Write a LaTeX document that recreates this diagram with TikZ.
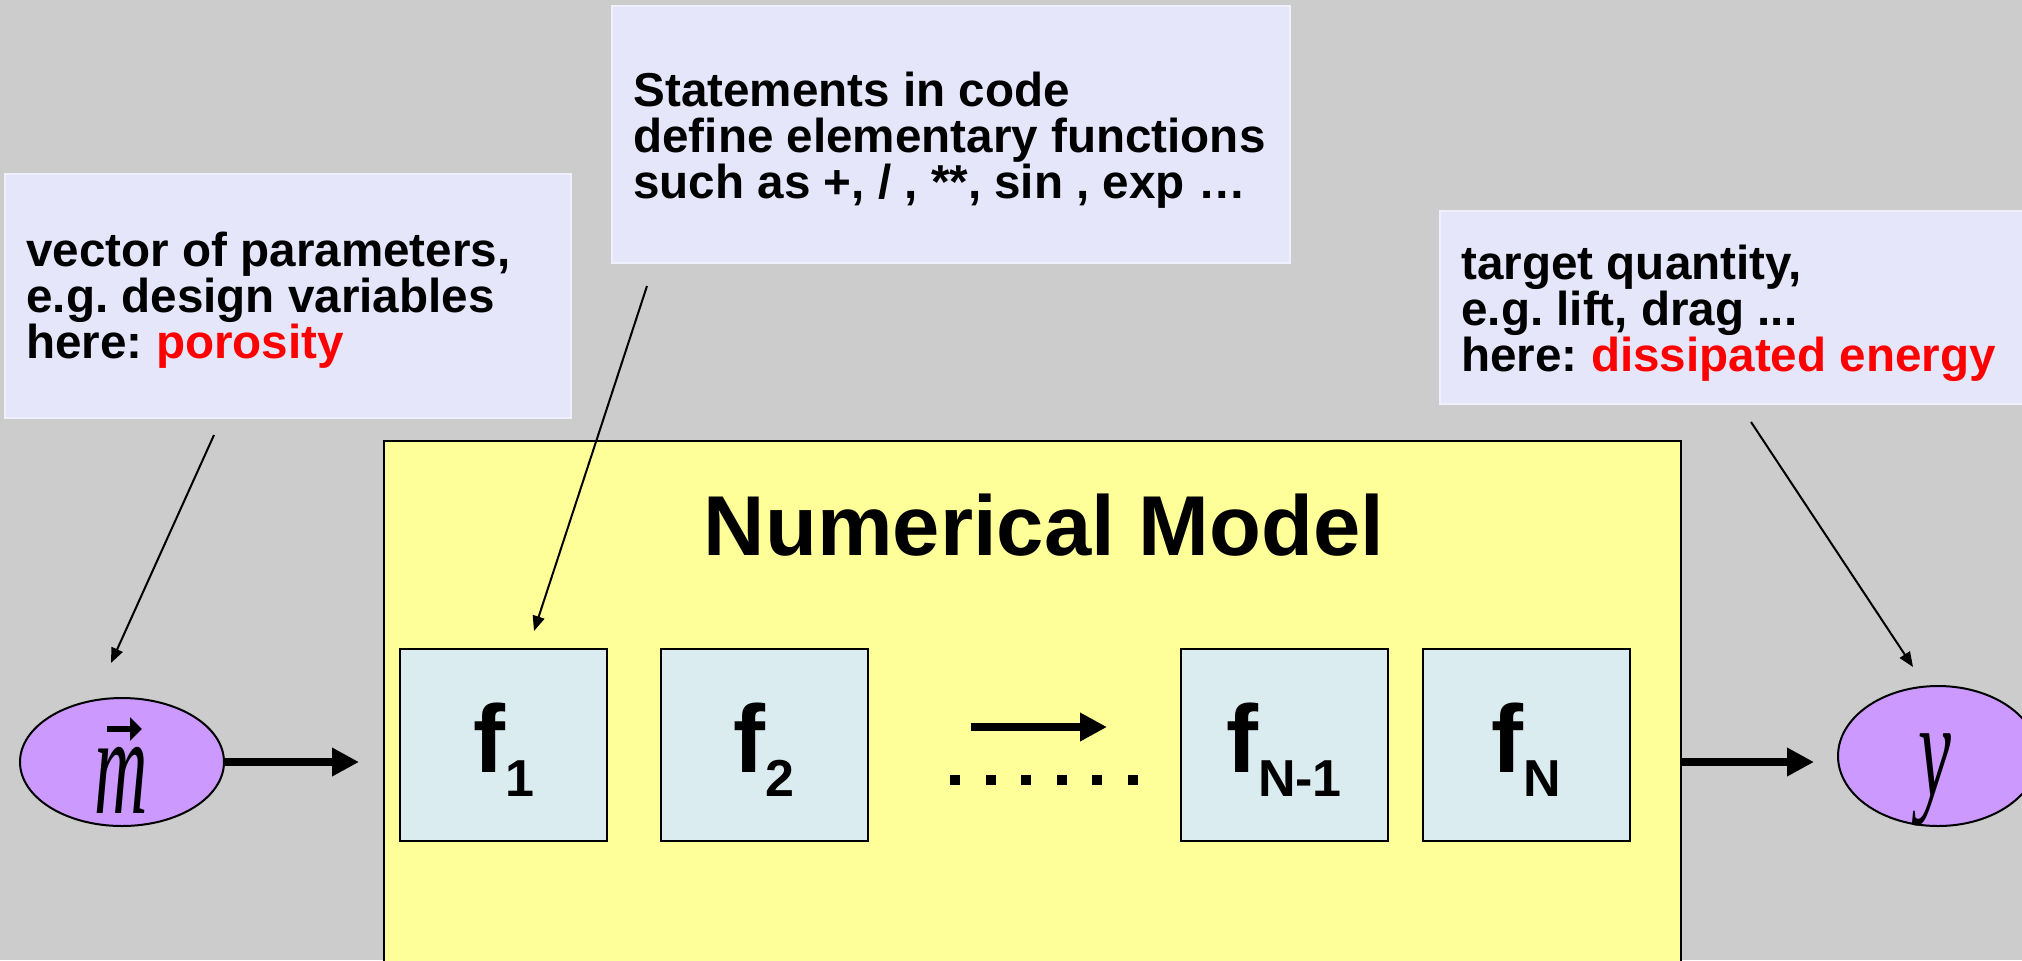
\documentclass[tikz,border=0pt]{standalone}
\usepackage{fontspec}
\setmainfont{Liberation Sans}
\newfontfamily\timesfont{Liberation Serif}
\usetikzlibrary{arrows.meta,calc,shapes.geometric}

\definecolor{canvas}{HTML}{CCCCCC}
\definecolor{notefill}{HTML}{E6E6FB}
\definecolor{modelfill}{HTML}{FFFF99}
\definecolor{funcfill}{HTML}{DAECEF}
\definecolor{varfill}{HTML}{CC99FF}
\definecolor{hilite}{HTML}{FF0000}

% lowered, smaller index after an f
\newcommand\fsub[1]{\raisebox{-12pt}{\fontsize{26}{26}\selectfont #1}}
% tight, unhyphenated note text
\newcommand\notefont{\fontsize{23.8}{23}\selectfont\bfseries\frenchspacing
  \hyphenpenalty=10000 \lineskiplimit=-30pt \lineskip=0pt}

\begin{document}
\begin{tikzpicture}[x=0.5pt,y=-0.5pt,
  notebox/.style={fill=notefill, draw=notefill!60!white, line width=0.6pt,
    inner sep=0pt},
  % anchored at the baseline of the last line
  notetext/.style={anchor=base west, inner sep=0pt, align=left, font=\notefont},
  funcbox/.style={draw=black, line width=1pt, fill=funcfill,
    minimum width=103.5pt, minimum height=96pt, inner sep=0pt,
    text height=35pt, text depth=8pt,
    font=\fontsize{48}{48}\selectfont\bfseries},
  var/.style={ellipse, draw=black, line width=1pt, fill=varfill, inner sep=0pt},
  glyph/.style={anchor=base, inner sep=0pt, font=\fontsize{37}{37}\timesfont\itshape},
  bigarrow/.style={line width=4pt, -{Triangle[length=13.5pt,width=13.5pt]}},
  callarrow/.style={line width=1pt, -{Triangle[length=7.5pt,width=6pt]}},
]
\clip (0,0) rectangle (2022,960);
\fill[canvas] (0,0) rectangle (2022,960);

% explanatory notes
\node[notebox, minimum width=283pt, minimum height=122pt] (paramsbox) at (288,296) {};
\node[notetext] (params) at (26,358)
  {vector of parameters,\\ e.g. design variables\\ here: \textcolor{hilite}{porosity}};
\node[notebox, minimum width=339pt, minimum height=128.5pt] (stmtsbox) at (951,134.5) {};
\node[notetext] (stmts) at (633,198)
  {Statements in code\\ define elementary functions\\ such as +, / , **, sin , exp …};
\node[notebox, minimum width=300pt, minimum height=96.5pt] (targetbox) at (1740,307.5) {};
\node[notetext] (target) at (1461,371)
  {target quantity,\\ e.g. lift, drag ...\\ here: \textcolor{hilite}{dissipated energy}};

% the model block
\node[draw=black, line width=1pt, fill=modelfill, minimum width=648.5pt,
  minimum height=279.5pt, inner sep=0pt] (model) at (1032.5,720.5) {};
\node[anchor=base, inner sep=0pt, font=\fontsize{42.5}{42.5}\selectfont\bfseries]
  (title) at (1044,555) {Numerical Model};

\node[funcbox] (f1)  at (503.5,745) {f\fsub{1}};
\node[funcbox] (f2)  at (764,745)   {f\fsub{2}};
\node[funcbox] (fn1) at (1284,745)  {f\fsub{N-1}};
\node[funcbox] (fn)  at (1526,745)  {f\fsub{N}};

% chain of further functions
\coordinate (flowA) at (971,727);
\coordinate (flowB) at (1107,727);
\draw[bigarrow] (flowA) -- (flowB);
\foreach \x in {955,990.6,1026.2,1061.8,1097.4,1133}
  \fill (\x-5,775) rectangle (\x+5,785);

% input and output
\node[var, minimum width=102pt, minimum height=64pt] (m) at (122,762) {};
\node[var, minimum width=100pt, minimum height=70pt] (y) at (1938,756) {};
\node[glyph] (mglyph) at (121,813) {\scalebox{1}[1.9]{m}};
\node[glyph] (yglyph) at (1935,796) {\scalebox{1}[1.85]{y}};
\draw[line width=3pt, -{Triangle[length=6pt,width=11.5pt]}]
  ([xshift=-7pt,yshift=42pt]mglyph.base) -- ([xshift=10.5pt,yshift=42pt]mglyph.base);

\draw[bigarrow, shorten >=12pt] (m.east) -- (m.east -| model.west);
\draw[bigarrow, shorten >=11.5pt] (model.east |- m.east) -- (y.west |- m.east);

% pointers from the notes
\coordinate (pTail) at (214,435);
\coordinate (pTip)  at (111,663);
\coordinate (sTail) at (647,286);
\coordinate (sTip)  at (534,631);
\coordinate (tTail) at (1751,422);
\coordinate (tTip)  at (1913,667);
\draw[callarrow] (pTail) -- (pTip);
\draw[callarrow] (sTail) -- (sTip);
\draw[callarrow] (tTail) -- (tTip);
\end{tikzpicture}
\end{document}
